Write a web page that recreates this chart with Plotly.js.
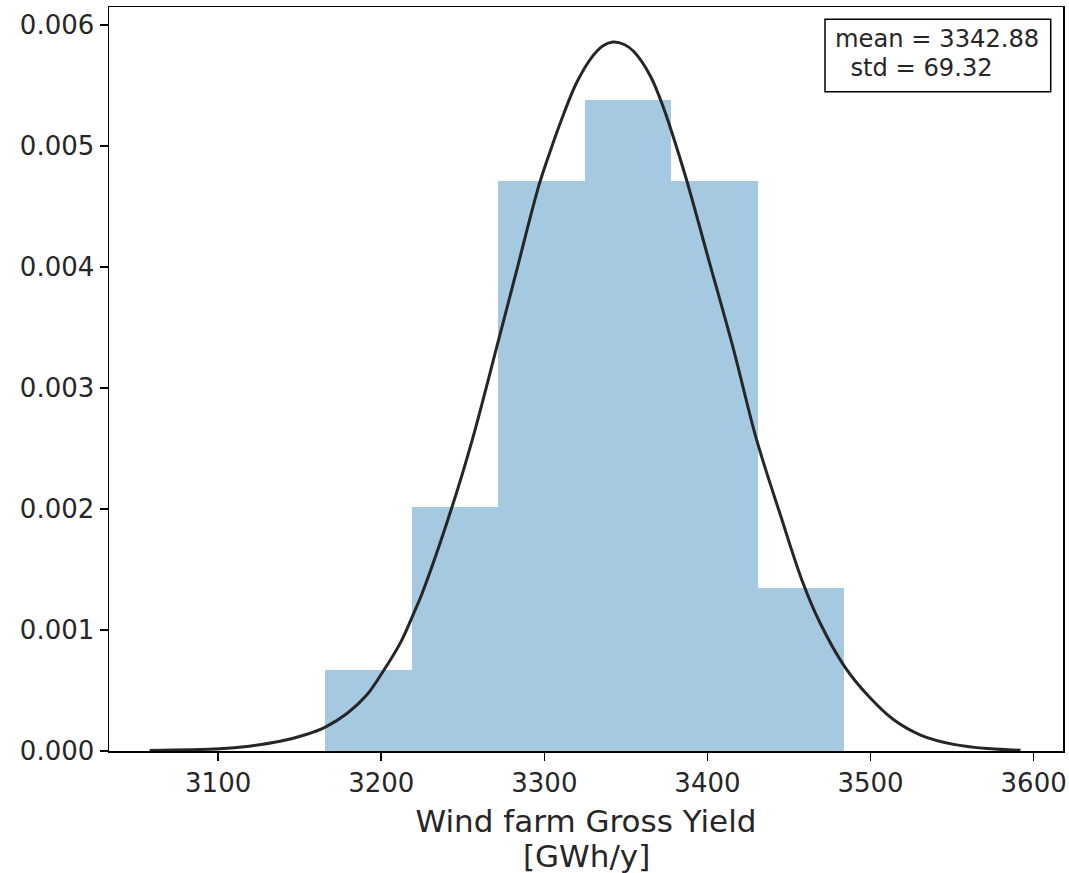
<!DOCTYPE html>
<html>
<head>
<meta charset="utf-8">
<script src="https://cdn.plot.ly/plotly-3.0.1.min.js"></script>
<style>html,body{margin:0;padding:0;background:#fff;}#chart{width:1069px;height:873px;}</style>
</head>
<body>
<div id="chart"></div>
<script>
// Histogram (density)
const binEdges = [3165.6, 3218.65, 3271.7, 3324.75, 3377.8, 3430.85, 3483.9];
const densities = [0.00067, 0.00202, 0.00471, 0.00538, 0.00471, 0.00135];

// Fitted curve, points
const curveX = [3058, 3101, 3119, 3138, 3154, 3166, 3179, 3191, 3201, 3212, 3220, 3225, 3243, 3256, 3272, 3283, 3297, 3306, 3310, 3320, 3330, 3336, 3342, 3349, 3355, 3365, 3373, 3379, 3387, 3401, 3416, 3430, 3445, 3458, 3469, 3484, 3499, 3514, 3531, 3551, 3572, 3592];
const curveY = [0.000005, 0.000018, 0.000040, 0.000080, 0.000136, 0.000200, 0.000310, 0.000460, 0.000655, 0.000900, 0.00114, 0.00130, 0.00200, 0.00258, 0.00340, 0.00397, 0.00469, 0.00505, 0.00520, 0.00553, 0.00575, 0.00583, 0.00586, 0.00584, 0.00578, 0.00558, 0.00532, 0.00508, 0.00473, 0.00405, 0.00332, 0.00258, 0.00194, 0.00141, 0.00106, 0.00070, 0.00045, 0.00026, 0.00013, 0.000055, 0.000020, 0.000006];

const meanVal = "3342.88";
const stdVal = "69.32";
const xTitleLine1 = "Wind farm Gross Yield";
const xTitleLine2 = "[GWh/y]";
const xTicks = [3100, 3200, 3300, 3400, 3500, 3600];
const yTicks = [0, 0.001, 0.002, 0.003, 0.004, 0.005, 0.006];

const centers = [], widths = [];
for (let i = 0; i < densities.length; i++) {
  centers.push((binEdges[i] + binEdges[i + 1]) / 2);
  widths.push(binEdges[i + 1] - binEdges[i]);
}

const font = "DejaVu Sans, Liberation Sans, sans-serif";

const traces = [
  {
    type: "bar", x: centers, y: densities, width: widths,
    marker: {color: "rgba(31,119,180,0.4)", line: {width: 0}},
    hoverinfo: "skip", showlegend: false
  },
  {
    type: "scatter", mode: "lines", x: curveX, y: curveY,
    line: {color: "#262626", width: 3, shape: "spline", smoothing: 1},
    showlegend: false
  }
];

// plot area in pixels: left 109, right 1063, top 7, bottom 751.5
const L = 109, R = 1063, T = 7, B = 751.5;
const px2paperX = p => (p - L) / (R - L);
const px2paperY = p => (B - p) / (B - T);

const layout = {
  width: 1069, height: 873,
  margin: {l: L, r: 1069 - R, t: T, b: 873 - B, pad: 0},
  paper_bgcolor: "#fff", plot_bgcolor: "#fff",
  font: {family: font, color: "#262626", size: 24},
  bargap: 0,
  xaxis: {
    range: [3033.1, 3618.0], tickvals: xTicks, ticktext: xTicks.map(String),
    showgrid: false, zeroline: false,
    showline: true, linecolor: "#000", linewidth: 1.5, mirror: true,
    ticks: "outside", ticklen: 8, tickwidth: 1.5, tickcolor: "#000",
    tickfont: {family: font, size: 26, color: "#262626"},
    title: {text: xTitleLine1, font: {family: font, size: 31, color: "#262626"}, standoff: 13}
  },
  yaxis: {
    range: [0, 0.00615], tickvals: yTicks, ticktext: yTicks.map(v => v.toFixed(3)),
    showgrid: false, zeroline: false,
    showline: true, linecolor: "#000", linewidth: 1.5, mirror: true,
    ticks: "outside", ticklen: 8, tickwidth: 1.5, tickcolor: "#000",
    tickfont: {family: font, size: 26, color: "#262626"}
  },
  shapes: [{
    type: "rect", xref: "paper", yref: "paper",
    x0: px2paperX(825), x1: px2paperX(1050.7), y0: px2paperY(91.7), y1: px2paperY(19.3),
    line: {color: "#000", width: 1.5}, fillcolor: "#fff", layer: "above"
  }],
  annotations: [
    {xref: "paper", yref: "paper", x: px2paperX(833), y: px2paperY(39.5), xanchor: "left", yanchor: "middle",
     text: "mean = " + meanVal, showarrow: false, font: {family: font, size: 24.2, color: "#262626"}},
    {xref: "paper", yref: "paper", x: px2paperX(833), y: px2paperY(68.5), xanchor: "left", yanchor: "middle",
     text: "\u00a0\u00a0std = " + stdVal, showarrow: false, font: {family: font, size: 24.2, color: "#262626"}},
    {xref: "paper", yref: "paper", x: 0.5, y: px2paperY(857), xanchor: "center", yanchor: "middle",
     text: xTitleLine2, showarrow: false, font: {family: font, size: 31, color: "#262626"}}
  ]
};

Plotly.newPlot("chart", traces, layout, {displayModeBar: false, staticPlot: true});
</script>
</body>
</html>
